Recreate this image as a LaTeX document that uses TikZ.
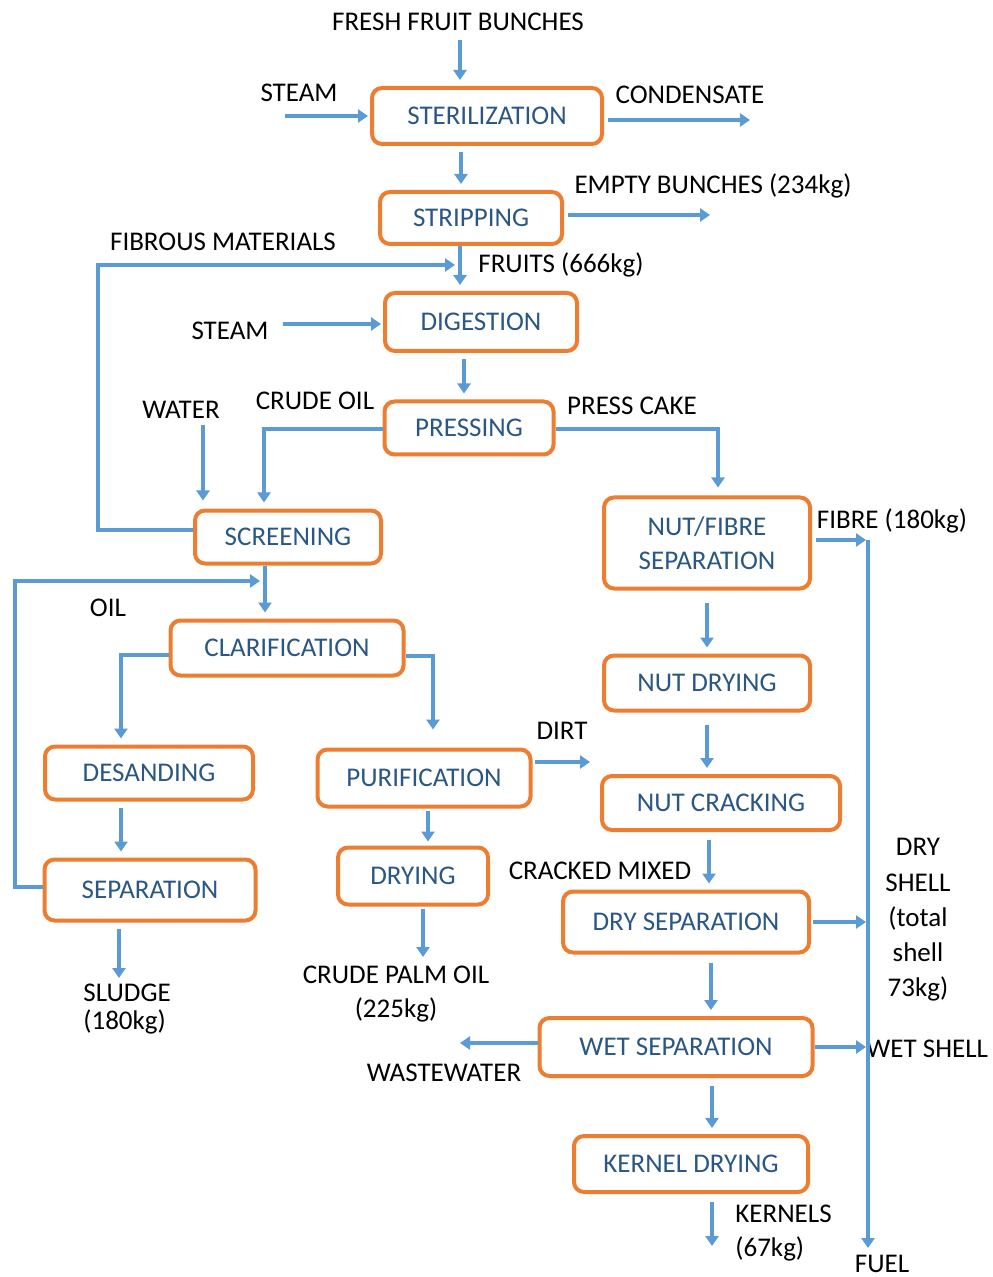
\documentclass[tikz,border=0pt]{standalone}
\usepackage{fontspec}
\setmainfont{Carlito}
\usetikzlibrary{arrows.meta}
\definecolor{boxorange}{HTML}{ED7D31}
\definecolor{arrblue}{HTML}{5B9BD5}
\definecolor{boxtext}{HTML}{2A5784}
\begin{document}
\begin{tikzpicture}[x=0.5pt,y=-0.5pt,
 proc/.style={draw=boxorange, line width=2pt, rounded corners=5pt, text=boxtext,
   font=\fontsize{13.5}{17}\selectfont, align=center, inner sep=0pt},
 lbl/.style={font=\fontsize{13.5}{17}\selectfont, inner sep=0pt, text=black},
 arr/.style={draw=arrblue, line width=1.6pt, -{Triangle[width=6.5pt,length=5pt]}},
 flow/.style={arr, shorten <=3pt, shorten >=3pt},
]
\useasboundingbox (0,0) rectangle (992,1277);
\fill[white] (0,0) rectangle (992,1277);

% ---------- process boxes ----------
\node[proc, minimum width=115pt, minimum height=28pt] (ster) at (487,116) {STERILIZATION};
\node[proc, minimum width=91pt, minimum height=26pt] (strip) at (471,218) {STRIPPING};
\node[proc, minimum width=96pt, minimum height=29pt] (dig) at (481,322) {DIGESTION};
\node[proc, minimum width=84.5pt, minimum height=26.5pt] (press) at (469,428) {PRESSING};
\node[proc, minimum width=93pt, minimum height=26.5pt] (screen) at (288,537) {SCREENING};
\node[proc, minimum width=103pt, minimum height=45.5pt] (nfs) at (707,543) {NUT/FIBRE\\SEPARATION};
\node[proc, minimum width=116.5pt, minimum height=27.5pt] (clar) at (287,648) {CLARIFICATION};
\node[proc, minimum width=103pt, minimum height=27.5pt] (ndry) at (707,683) {NUT DRYING};
\node[proc, minimum width=104pt, minimum height=26.5pt] (desand) at (149,773) {DESANDING};
\node[proc, minimum width=106.5pt, minimum height=28.5pt] (purif) at (424,778) {PURIFICATION};
\node[proc, minimum width=119pt, minimum height=27pt] (ncrack) at (721,803) {NUT CRACKING};
\node[proc, minimum width=105.5pt, minimum height=30.5pt] (sep) at (150,890) {SEPARATION};
\node[proc, minimum width=75pt, minimum height=28.5pt] (drying) at (413,876) {DRYING};
\node[proc, minimum width=123pt, minimum height=30.5pt] (dsep) at (686,922) {DRY SEPARATION};
\node[proc, minimum width=136.5pt, minimum height=29pt] (wsep) at (676,1047) {WET SEPARATION};
\node[proc, minimum width=117pt, minimum height=28pt] (kdry) at (691,1164) {KERNEL DRYING};

% ---------- labels ----------
\node[lbl] (ffb) at (458,22) {FRESH FRUIT BUNCHES};
\node[lbl] (steamA) at (299,93) {STEAM};
\node[lbl] (cond) at (690,95) {CONDENSATE};
\node[lbl] (empty) at (713,186) {EMPTY BUNCHES (234kg)};
\node[lbl] (fibrous) at (223,242) {FIBROUS MATERIALS};
\node[lbl] (fruits) at (561,265) {FRUITS (666kg)};
\node[lbl] (steamB) at (230,331) {STEAM};
\node[lbl] (crude) at (315,401) {CRUDE OIL};
\node[lbl] (water) at (181,410) {WATER};
\node[lbl] (pcake) at (632,406) {PRESS CAKE};
\node[lbl] (fibre) at (892,521) {FIBRE (180kg)};
\node[lbl] (oil) at (108,608) {OIL};
\node[lbl] (dirt) at (562,731) {DIRT};
\node[lbl] (cracked) at (600,871) {CRACKED MIXED};
\node[lbl, align=center, font=\fontsize{13.5}{17.6}\selectfont] (dshell) at (918,920) {DRY\\SHELL\\(total\\shell\\73kg)};
\node[lbl, align=left, anchor=north west, font=\fontsize{13.5}{14}\selectfont] (sludge) at (83,984) {SLUDGE\\(180kg)};
\node[lbl, align=center, anchor=north, font=\fontsize{13.5}{17}\selectfont] (cpo) at (396,966) {CRUDE PALM OIL\\(225kg)};
\node[lbl] (waste) at (444,1073) {WASTEWATER};
\node[lbl, anchor=west] (wshell) at (866,1049) {WET SHELL};
\node[lbl, align=left, anchor=north west, font=\fontsize{13.5}{17}\selectfont] (kern) at (735,1205) {KERNELS\\(67kg)};
\node[lbl] (fuel) at (882,1264) {FUEL};

% ---------- guide coordinates ----------
\coordinate (ffbs) at (460,40);
\coordinate (stAs) at (285,116);
\coordinate (conde) at (750,120);
\coordinate (vA) at (461,0);
\coordinate (ebe) at (710,215);
\coordinate (vB) at (460,0);
\coordinate (fl1) at (98,530);
\coordinate (fl2) at (98,265);
\coordinate (fl3) at (455,265);
\coordinate (stBs) at (283,324);
\coordinate (vC) at (464,0);
\coordinate (co) at (264,429);
\coordinate (wat) at (203,425);
\coordinate (pc) at (718,429);
\coordinate (vD) at (265,0);
\coordinate (ol1) at (15,887);
\coordinate (ol2) at (15,581);
\coordinate (ol3) at (260,581);
\coordinate (cl) at (121,655);
\coordinate (cr) at (433,656);
\coordinate (vE) at (121,0);
\coordinate (sl) at (119,978);
\coordinate (vF) at (428,0);
\coordinate (cp) at (423,957);
\coordinate (dr) at (590,762);
\coordinate (vG) at (707,0);
\coordinate (fb) at (866,540);
\coordinate (fuelT) at (868,540);
\coordinate (fuelB) at (868,1248);
\coordinate (vH) at (709,0);
\coordinate (ds) at (866,922);
\coordinate (vI) at (711,0);
\coordinate (ww) at (460,1043);
\coordinate (ws) at (866,1047);
\coordinate (vJ) at (712,0);
\coordinate (kn) at (712,1246);

% ---------- connectors ----------
\draw[arr, shorten >=3pt] (ffbs) -- (ffbs |- ster.north);
\draw[arr, shorten >=1pt] (stAs) -- (stAs -| ster.west);
\draw[arr, shorten <=2pt] (conde -| ster.east) -- (conde);
\draw[flow] (ster.south -| vA) -- (strip.north -| vA);
\draw[arr, shorten <=2pt] (ebe -| strip.east) -- (ebe);
\draw[arr, shorten >=3pt] (strip.south -| vB) -- (dig.north -| vB);
\draw[arr] (fl1 -| screen.west) -- (fl1) -- (fl2) -- (fl3);
\draw[arr, shorten >=1pt] (stBs) -- (stBs -| dig.west);
\draw[flow] (dig.south -| vC) -- (press.north -| vC);
\draw[arr, shorten >=3pt] (co -| press.west) -- (co) -- (co |- screen.north);
\draw[arr, shorten >=4pt] (wat) -- (wat |- screen.north);
\draw[arr, shorten >=4pt] (pc -| press.east) -- (pc) -- (pc |- nfs.north);
\draw[arr, shorten >=3pt] (screen.south -| vD) -- (clar.north -| vD);
\draw[arr] (ol1 -| sep.west) -- (ol1) -- (ol2) -- (ol3);
\draw[arr, shorten >=3pt] (cl -| clar.west) -- (cl) -- (cl |- desand.north);
\draw[arr, shorten >=9pt] (cr -| clar.east) -- (cr) -- (cr |- purif.north);
\draw[flow] (desand.south -| vE) -- (sep.north -| vE);
\draw[arr, shorten <=3pt] (sep.south -| sl) -- (sl);
\draw[arr, shorten <=1pt, shorten >=2pt] (purif.south -| vF) -- (drying.north -| vF);
\draw[arr, shorten <=1pt] (drying.south -| cp) -- (cp);
\draw[arr, shorten <=1pt] (dr -| purif.east) -- (dr);
\draw[flow, shorten <=6pt] (nfs.south -| vG) -- (ndry.north -| vG);
\draw[flow, shorten <=6pt] (ndry.south -| vG) -- (ncrack.north -| vG);
\draw[arr, shorten <=2pt] (fb -| nfs.east) -- (fb);
\draw[arr] (fuelT) -- (fuelB);
\draw[flow, shorten <=4pt] (ncrack.south -| vH) -- (dsep.north -| vH);
\draw[arr, shorten <=1pt] (ds -| dsep.east) -- (ds);
\draw[flow, shorten <=4pt] (dsep.south -| vI) -- (wsep.north -| vI);
\draw[arr] (ww -| wsep.west) -- (ww);
\draw[arr] (ws -| wsep.east) -- (ws);
\draw[flow, shorten <=4pt] (wsep.south -| vJ) -- (kdry.north -| vJ);
\draw[arr, shorten <=4pt] (kdry.south -| kn) -- (kn);
\end{tikzpicture}
\end{document}
